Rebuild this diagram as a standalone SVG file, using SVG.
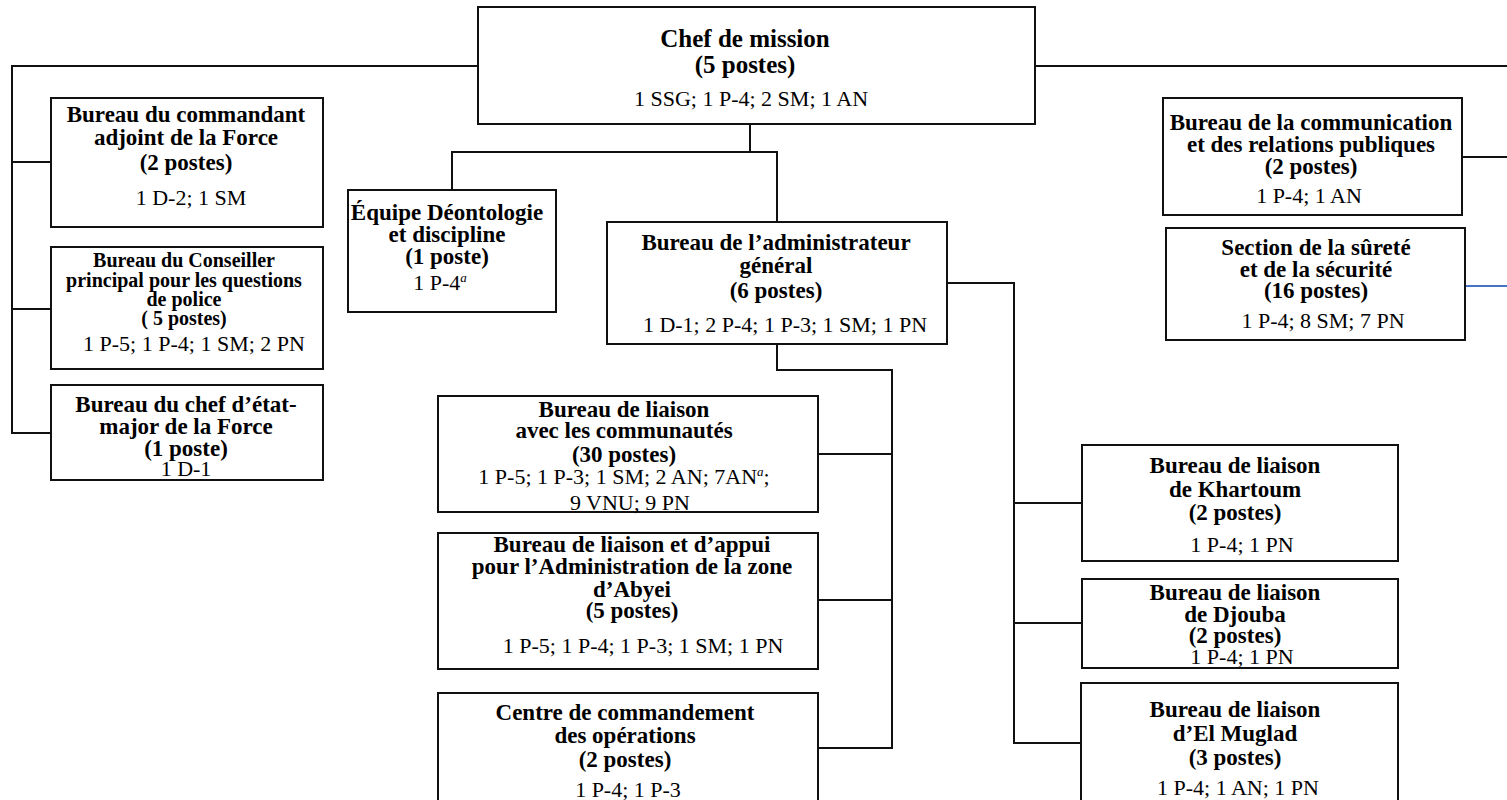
<svg xmlns="http://www.w3.org/2000/svg" width="1507" height="800" viewBox="0 0 1507 800">
<style>
.box{fill:#fff;stroke:#111;stroke-width:2}
.ln{fill:none;stroke:#111;stroke-width:2}
.blue{fill:none;stroke:#4472C4;stroke-width:2}
text{font-family:"Liberation Serif","Times New Roman",serif;fill:#000;text-anchor:middle}
.b{font-weight:bold;font-size:23px}
.bs{font-weight:bold;font-size:20px}
.bl{font-weight:bold;font-size:25px}
.r{font-size:22px}
.sup{font-style:italic;font-size:13px}
</style>
<rect width="1507" height="800" fill="#fff"/>
<g id="connectors">
<polyline class="ln" points="478,66 12,66 12,433 51,433"/>
<line class="ln" x1="12" y1="162" x2="51" y2="162"/>
<line class="ln" x1="12" y1="309" x2="51" y2="309"/>
<line class="ln" x1="1035" y1="66" x2="1507" y2="66"/>
<line class="ln" x1="1462" y1="157" x2="1507" y2="157"/>
<line class="blue" x1="1465" y1="286" x2="1507" y2="286"/>
<line class="ln" x1="750" y1="124" x2="750" y2="152"/>
<polyline class="ln" points="452,190 452,152 777,152 777,222"/>
<polyline class="ln" points="947,283 1014,283 1014,743 1081,743"/>
<line class="ln" x1="1014" y1="503" x2="1082" y2="503"/>
<line class="ln" x1="1014" y1="623" x2="1082" y2="623"/>
<polyline class="ln" points="777,344 777,370 892,370 892,748 818,748"/>
<line class="ln" x1="818" y1="454" x2="892" y2="454"/>
<line class="ln" x1="818" y1="600" x2="892" y2="600"/>
</g>
<g id="chef">
<rect class="box" x="478" y="7" width="557" height="117"/>
<text class="bl" x="745" y="47">Chef de mission</text>
<text class="bl" x="745" y="73">(5 postes)</text>
<text class="r" x="751" y="106">1 SSG; 1 P-4; 2 SM; 1 AN</text>
</g>
<g id="commandant-adjoint">
<rect class="box" x="51" y="98" width="272" height="129"/>
<text class="b" x="186" y="122">Bureau du commandant</text>
<text class="b" x="186" y="145">adjoint de la Force</text>
<text class="b" x="186" y="170">(2 postes)</text>
<text class="r" x="191" y="205">1 D-2; 1 SM</text>
</g>
<g id="conseiller-police">
<rect class="box" x="51" y="247" width="272" height="122"/>
<text class="bs" x="184" y="267">Bureau du Conseiller</text>
<text class="bs" x="184" y="287">principal pour les questions</text>
<text class="bs" x="184" y="306">de police</text>
<text class="bs" x="184" y="325">( 5 postes)</text>
<text class="r" x="194" y="351">1 P-5; 1 P-4; 1 SM; 2 PN</text>
</g>
<g id="chef-etat-major">
<rect class="box" x="51" y="385" width="272" height="95"/>
<text class="b" x="186" y="412">Bureau du chef d’état-</text>
<text class="b" x="186" y="434">major de la Force</text>
<text class="b" x="186" y="456">(1 poste)</text>
<text class="r" x="186" y="476">1 D-1</text>
</g>
<g id="deontologie">
<rect class="box" x="348" y="190" width="208" height="122"/>
<text class="b" x="447" y="220">Équipe Déontologie</text>
<text class="b" x="447" y="242">et discipline</text>
<text class="b" x="447" y="264">(1 poste)</text>
<text class="r" x="440" y="290">1 P-4<tspan class="sup" dy="-8">a</tspan></text>
</g>
<g id="administrateur">
<rect class="box" x="607" y="222" width="340" height="122"/>
<text class="b" x="776" y="250">Bureau de l’administrateur</text>
<text class="b" x="776" y="273">général</text>
<text class="b" x="776" y="298">(6 postes)</text>
<text class="r" x="785" y="332">1 D-1; 2 P-4; 1 P-3; 1 SM; 1 PN</text>
</g>
<g id="communication">
<rect class="box" x="1163" y="98" width="299" height="117"/>
<text class="b" x="1311" y="130">Bureau de la communication</text>
<text class="b" x="1311" y="152">et des relations publiques</text>
<text class="b" x="1311" y="174">(2 postes)</text>
<text class="r" x="1309" y="203">1 P-4; 1 AN</text>
</g>
<g id="surete">
<rect class="box" x="1166" y="228" width="299" height="112"/>
<text class="b" x="1316" y="255">Section de la sûreté</text>
<text class="b" x="1316" y="277">et de la sécurité</text>
<text class="b" x="1316" y="298">(16 postes)</text>
<text class="r" x="1323" y="328">1 P-4; 8 SM; 7 PN</text>
</g>
<g id="communautes">
<rect class="box" x="438" y="396" width="380" height="116"/>
<text class="b" x="624" y="417">Bureau de liaison</text>
<text class="b" x="624" y="438">avec les communautés</text>
<text class="b" x="624" y="462">(30 postes)</text>
<text class="r" x="624" y="484">1 P-5; 1 P-3; 1 SM; 2 AN; 7AN<tspan class="sup" dy="-8">a</tspan><tspan dy="8">;</tspan></text>
<text class="r" x="630" y="510">9 VNU; 9 PN</text>
</g>
<g id="abyei">
<rect class="box" x="438" y="533" width="380" height="136"/>
<text class="b" x="632" y="552">Bureau de liaison et d’appui</text>
<text class="b" x="632" y="574">pour l’Administration de la zone</text>
<text class="b" x="632" y="597">d’Abyei</text>
<text class="b" x="632" y="618">(5 postes)</text>
<text class="r" x="643" y="653">1 P-5; 1 P-4; 1 P-3; 1 SM; 1 PN</text>
</g>
<g id="centre-operations">
<rect class="box" x="438" y="693" width="380" height="115"/>
<text class="b" x="625" y="720">Centre de commandement</text>
<text class="b" x="625" y="743">des opérations</text>
<text class="b" x="625" y="767">(2 postes)</text>
<text class="r" x="628" y="797">1 P-4; 1 P-3</text>
</g>
<g id="khartoum">
<rect class="box" x="1082" y="445" width="316" height="116"/>
<text class="b" x="1235" y="473">Bureau de liaison</text>
<text class="b" x="1235" y="497">de Khartoum</text>
<text class="b" x="1235" y="520">(2 postes)</text>
<text class="r" x="1242" y="552">1 P-4; 1 PN</text>
</g>
<g id="djouba">
<rect class="box" x="1082" y="579" width="316" height="89"/>
<text class="b" x="1235" y="600">Bureau de liaison</text>
<text class="b" x="1235" y="622">de Djouba</text>
<text class="b" x="1235" y="643">(2 postes)</text>
<text class="r" x="1242" y="664">1 P-4; 1 PN</text>
</g>
<g id="el-muglad">
<rect class="box" x="1081" y="683" width="317" height="125"/>
<text class="b" x="1235" y="717">Bureau de liaison</text>
<text class="b" x="1235" y="741">d’El Muglad</text>
<text class="b" x="1235" y="765">(3 postes)</text>
<text class="r" x="1238" y="795">1 P-4; 1 AN; 1 PN</text>
</g>
</svg>
